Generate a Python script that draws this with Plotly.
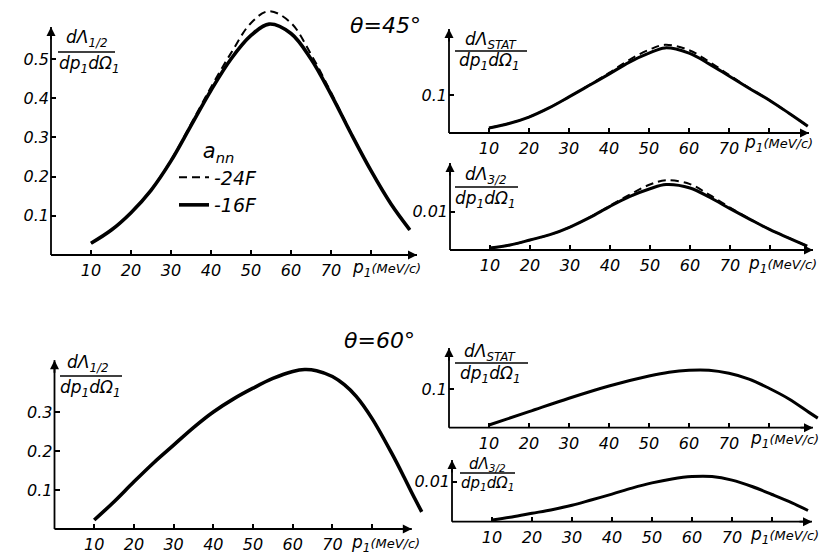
import plotly.graph_objects as go

W, H = 833, 555

# ---------------- data ----------------
# theta = 45 deg, dLambda_1/2
p_45_half = [10, 15, 20, 25, 30, 35, 40, 45, 50, 54.5, 60, 65, 70, 75, 80, 85, 89.7]
half_45_16F = [0.030, 0.063, 0.108, 0.165, 0.240, 0.330, 0.420, 0.500, 0.560, 0.589, 0.565, 0.500, 0.410, 0.310, 0.215, 0.130, 0.064]
half_45_24F = [0.030, 0.063, 0.108, 0.166, 0.242, 0.334, 0.428, 0.515, 0.592, 0.622, 0.592, 0.512, 0.415, 0.312, 0.216, 0.131, 0.064]

# theta = 45 deg, dLambda_STAT
p_45_stat = [10, 15, 20, 25, 30, 35, 40, 45, 50, 54, 60, 65, 70, 75, 80, 85, 89.7]
stat_45_16F = [0.013, 0.025, 0.042, 0.066, 0.095, 0.125, 0.155, 0.186, 0.210, 0.224, 0.210, 0.182, 0.150, 0.118, 0.087, 0.052, 0.018]
stat_45_24F = [0.013, 0.025, 0.042, 0.066, 0.095, 0.126, 0.158, 0.192, 0.219, 0.232, 0.218, 0.188, 0.153, 0.119, 0.087, 0.052, 0.018]

# theta = 45 deg, dLambda_3/2
p_45_32 = [10, 15, 20, 25, 30, 35, 40, 45, 50, 54, 60, 65, 70, 75, 80, 85, 89.3]
t32_45_16F = [0.0005, 0.0013, 0.0026, 0.0040, 0.0060, 0.0085, 0.0114, 0.0140, 0.0160, 0.0171, 0.0162, 0.0137, 0.0108, 0.0080, 0.0053, 0.0030, 0.0010]
t32_45_24F = [0.0005, 0.0013, 0.0026, 0.0040, 0.0060, 0.0086, 0.0116, 0.0145, 0.0171, 0.0182, 0.0172, 0.0143, 0.0111, 0.0081, 0.0053, 0.0030, 0.0010]

# theta = 60 deg
p_60_half = [10, 15, 20, 25, 30, 35, 40, 45, 50, 55, 60, 63, 66, 70, 73, 76, 80, 85, 88, 90, 92.5]
half_60 = [0.023, 0.070, 0.121, 0.170, 0.215, 0.260, 0.300, 0.333, 0.361, 0.386, 0.404, 0.409, 0.406, 0.391, 0.370, 0.340, 0.283, 0.193, 0.134, 0.093, 0.044]

p_60_stat = [10, 20, 30, 40, 50, 55, 60, 65, 70, 75, 80, 85, 90, 92.2]
stat_60 = [0.007, 0.042, 0.077, 0.109, 0.135, 0.145, 0.150, 0.150, 0.142, 0.127, 0.103, 0.075, 0.040, 0.025]

p_60_32 = [10, 15, 20, 25, 30, 35, 40, 45, 50, 55, 60, 65, 70, 75, 80, 85, 89]
t32_60 = [0.0004, 0.0012, 0.0021, 0.0030, 0.0041, 0.0055, 0.0069, 0.0084, 0.0097, 0.0107, 0.0113, 0.0113, 0.0104, 0.0088, 0.0068, 0.0047, 0.0028]

x_tickvals = [10, 20, 30, 40, 50, 60, 70, 80]
x_ticktext = ["10", "20", "30", "40", "50", "60", "70", ""]

# ---------------- layout helpers ----------------
def fx(x):
    return x / W

def fy(y):
    return 1 - y / H

FONT = "DejaVu Sans"
tickfont = dict(family=FONT, size=16, color="black", style="italic")

# panel geometry: pixel of the origin, pixels per unit, axis-line end, range max
panels = [
    dict(x0=51, xppu=4.0, xend=91.5, xmax=91.5, y0=255, yppu=392, yend=0.5816, ymax=0.6505,
         yt=[0.1, 0.2, 0.3, 0.4, 0.5], ytt=["0.1", "0.2", "0.3", "0.4", "0.5"]),
    dict(x0=449, xppu=4.0, xend=90.0, xmax=90.5, y0=133, yppu=380, yend=0.274, ymax=0.274,
         yt=[0.1], ytt=["0.1"]),
    dict(x0=450, xppu=4.0, xend=90.75, xmax=90.75, y0=250, yppu=3830, yend=0.0227, ymax=0.0227,
         yt=[0.01], ytt=["0.01"]),
    dict(x0=54.5, xppu=3.97, xend=90.0, xmax=93.1, y0=529, yppu=390, yend=0.433, ymax=0.433,
         yt=[0.1, 0.2, 0.3], ytt=["0.1", "0.2", "0.3"]),
    dict(x0=449, xppu=4.0, xend=91.0, xmax=92.5, y0=427.7, yppu=383, yend=0.208, ymax=0.208,
         yt=[0.1], ytt=["0.1"]),
    dict(x0=452, xppu=4.0, xend=90.0, xmax=90.0, y0=521.7, yppu=4000, yend=0.0154, ymax=0.0154,
         yt=[0.01], ytt=["0.01"]),
]

fig = go.Figure()

def ax_ids(i):
    n = "" if i == 1 else str(i)
    return "x" + n, "y" + n, "xaxis" + n, "yaxis" + n

solid = dict(color="black", width=3.6, shape="spline", smoothing=1.0)
solid_thin = dict(color="black", width=3.0, shape="spline", smoothing=1.0)
dashed = dict(color="black", width=2.0, dash="8px,5px", shape="spline", smoothing=1.0)

series = [
    (1, p_45_half, half_45_24F, dashed, "-24F", True),
    (1, p_45_half, half_45_16F, solid, "-16F", True),
    (2, p_45_stat, stat_45_24F, dashed, "-24F", False),
    (2, p_45_stat, stat_45_16F, solid_thin, "-16F", False),
    (3, p_45_32, t32_45_24F, dashed, "-24F", False),
    (3, p_45_32, t32_45_16F, solid_thin, "-16F", False),
    (4, p_60_half, half_60, solid, "-16F", False),
    (5, p_60_stat, stat_60, solid_thin, "-16F", False),
    (6, p_60_32, t32_60, solid_thin, "-16F", False),
]
for i, xs, ys, ln, nm, leg in series:
    xid, yid, _, _ = ax_ids(i)
    fig.add_trace(go.Scatter(x=xs, y=ys, mode="lines", line=ln, name=nm,
                             showlegend=leg, xaxis=xid, yaxis=yid,
                             hoverinfo="skip"))

annotations = []
shapes = []
layout_axes = {}
AX_W = 1.8
for i, pn in enumerate(panels, start=1):
    xid, yid, xname, yname = ax_ids(i)
    xl = pn["x0"]
    xr = pn["x0"] + pn["xmax"] * pn["xppu"]
    yb = pn["y0"]
    yt = pn["y0"] - pn["ymax"] * pn["yppu"]
    common = dict(showgrid=False, zeroline=False, showline=False,
                  ticks="inside", ticklen=5, tickwidth=1.5, tickcolor="black",
                  tickfont=tickfont, fixedrange=True)
    layout_axes[xname] = dict(domain=[fx(xl), fx(xr)], range=[0, pn["xmax"]], anchor=yid,
                              tickvals=x_tickvals, ticktext=x_ticktext,
                              ticklabelstandoff=4, **common)
    layout_axes[yname] = dict(domain=[fy(yb), fy(yt)], range=[0, pn["ymax"]], anchor=xid,
                              tickvals=pn["yt"], ticktext=pn["ytt"],
                              ticklabelstandoff=1, **common)
    xe = pn["xend"] / pn["xmax"]
    ye = pn["yend"] / pn["ymax"]
    xdr, ydr = f"{xid} domain", f"{yid} domain"
    # axis lines
    shapes.append(dict(type="line", xref=xdr, yref=ydr, x0=0, x1=xe, y0=0, y1=0,
                       line=dict(color="black", width=AX_W)))
    shapes.append(dict(type="line", xref=xdr, yref=ydr, x0=0, x1=0, y0=0, y1=ye,
                       line=dict(color="black", width=AX_W)))
    # arrow heads
    annotations.append(dict(xref=xdr, yref=ydr, x=0, y=ye, ax=0, ay=14,
                            showarrow=True, arrowhead=2, arrowsize=1,
                            arrowwidth=AX_W, arrowcolor="black", text=""))
    annotations.append(dict(xref=xdr, yref=ydr, x=xe, y=0, ax=-14, ay=0,
                            showarrow=True, arrowhead=2, arrowsize=1,
                            arrowwidth=AX_W, arrowcolor="black", text=""))

lab = dict(family=FONT, size=17, color="black", style="italic")
lab_s = dict(family=FONT, size=15, color="black", style="italic")

def text_at(txt, x, y, font, xanchor="center"):
    annotations.append(dict(xref="paper", yref="paper", x=fx(x), y=fy(y), text=txt,
                            showarrow=False, font=font, xanchor=xanchor, yanchor="middle"))

def bar(x0, x1, y):
    shapes.append(dict(type="line", xref="paper", yref="paper", x0=fx(x0), x1=fx(x1),
                       y0=fy(y), y1=fy(y), line=dict(color="black", width=1.6)))

den = "dp<sub>1</sub>dΩ<sub>1</sub>"
fractions = [
    ("dΛ<sub>1/2</sub>", (87, 39), (58, 115, 52), (89, 64), lab),
    ("dΛ<sub>STAT</sub>", (491, 40), (455, 527, 51), (489, 62), lab),
    ("dΛ<sub>3/2</sub>", (486, 175), (455, 518, 187), (485, 199), lab),
    ("dΛ<sub>1/2</sub>", (88, 363), (60, 122, 376), (90, 389), lab),
    ("dΛ<sub>STAT</sub>", (490, 352), (455, 528, 363), (490, 374), lab),
    ("dΛ<sub>3/2</sub>", (487, 464), (460, 515, 473), (487, 483), lab_s),
]
for num, npos, b, dpos, f in fractions:
    text_at(num, npos[0], npos[1], f)
    bar(b[0], b[1], b[2])
    text_at(den, dpos[0], dpos[1], f)

xlabel = "p<sub>1</sub><span style='font-size:13px'>(MeV/c)</span>"
for (x, y) in [(350, 269), (742, 143), (746, 264), (349, 543), (748, 439), (748, 535)]:
    text_at(xlabel, x, y, lab, xanchor="left")

big = dict(family=FONT, size=22, color="black", style="italic")
text_at("θ=45°", 385, 26, big)
text_at("θ=60°", 379, 340, big)

fig.update_layout(
    width=W, height=H,
    margin=dict(l=0, r=0, t=0, b=0),
    paper_bgcolor="white", plot_bgcolor="rgba(0,0,0,0)",
    showlegend=True,
    legend=dict(x=fx(174), y=fy(131), xanchor="left", yanchor="top",
                bgcolor="rgba(0,0,0,0)", font=dict(family=FONT, size=19, color="black", style="italic"),
                title=dict(text="a<sub>nn</sub>", side="top center",
                           font=dict(family=FONT, size=21, color="black", style="italic")),
                itemwidth=30, tracegroupgap=0),
    annotations=annotations,
    shapes=shapes,
    **layout_axes,
)

fig.write_html("out.html", config={"displayModeBar": False},
               post_script="document.body.style.margin='0';")
